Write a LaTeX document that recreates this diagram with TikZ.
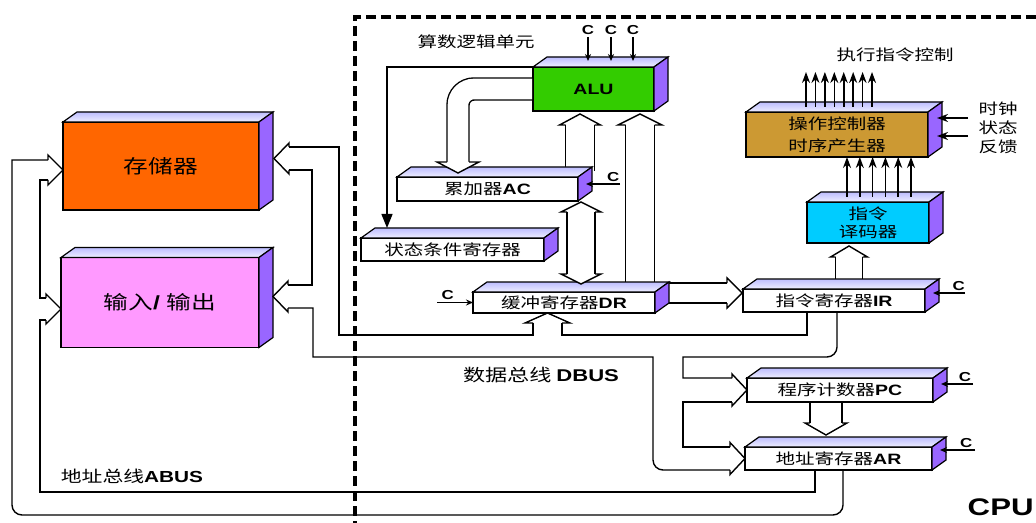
\documentclass[tikz,border=0pt]{standalone}
\usepackage{fontspec}
\setmainfont[FakeStretch=1.3]{Liberation Sans}
\newfontfamily\cjk[FakeStretch=1.3]{Noto Sans CJK SC}
\usetikzlibrary{calc,arrows.meta}

\definecolor{memcol}{HTML}{FF6600}
\definecolor{iocol}{HTML}{FF99FF}
\definecolor{alucol}{HTML}{33CC00}
\definecolor{cucol}{HTML}{CC9933}
\definecolor{idcol}{HTML}{00CCFF}
\definecolor{topcol}{HTML}{BDBDFF}
\definecolor{sidecol}{HTML}{9966FF}

\newcommand\lat[1]{{\rmfamily\bfseries #1}}

\tikzset{
  box/.style={draw, line width=.7pt, inner sep=0pt, outer sep=0pt, align=center},
  bigtxt/.style={font=\cjk\fontsize{9.5}{11}\selectfont},
  regtxt/.style={font=\cjk\fontsize{7.5}{9}\selectfont},
  lab/.style={font=\cjk\fontsize{7.5}{9.5}\selectfont, inner sep=0pt, align=center},
  clab/.style={font=\rmfamily\bfseries\fontsize{6.5}{7}\selectfont, inner sep=1pt},
  wire/.style={line width=.7pt},
  bus/.style={line width=.7pt, double, double distance=#1},
  carrow/.style={line width=.6pt, -{Stealth[length=3.5pt,width=3pt]}},
  sig/.style={line width=.8pt, -{Stealth[length=5.5pt,width=4pt]}},
  flag/.style={line width=.7pt, -{Triangle[length=7pt,width=5.5pt]}},
  cpuframe/.style={line width=1.6pt, dash pattern=on 5pt off 2.5pt},
  pics/bushead/.style n args={3}{code={
    \draw[line width=.7pt, fill=white] (-#3,#1) -- (-#3,#2) -- (0,0) -- (-#3,-#2) -- (-#3,-#1);
  }},
}

\begin{document}
\begin{tikzpicture}[x=0.5pt, y=-0.5pt]
\path[use as bounding box, fill=white] (0,0) rectangle (1036,523);
\def\dx{14}
\def\dy{10}

%%%%% CPU frame
\draw[cpuframe] (1036,17) -- (355,17) -- (355,523);

%%%%% units and registers
\node[box, bigtxt, fill=memcol, minimum width=98pt, minimum height=44pt] (mem) at (161,166) {存储器};
\node[box, bigtxt, fill=iocol, minimum width=99pt, minimum height=45pt] (io) at (160,302.5) {输入\lat{/ }输出};
\node[box, fill=alucol, minimum width=60.5pt, minimum height=22pt, font=\rmfamily\bfseries\fontsize{7.5}{9}\selectfont] (alu) at (593.5,89) {ALU};
\node[box, regtxt, fill=white, minimum width=90.5pt, minimum height=12pt] (ac) at (487.5,189) {累加器\lat{AC}};
\node[box, regtxt, fill=white, minimum width=91.5pt, minimum height=11.5pt] (sr) at (452.5,249.5) {状态条件寄存器};
\node[box, regtxt, fill=white, minimum width=91pt, minimum height=10.5pt] (dr) at (564,302.5) {缓冲寄存器\lat{DR}};
\node[box, regtxt, fill=white, minimum width=91pt, minimum height=11.5pt] (ir) at (834,300.5) {指令寄存器\lat{IR}};
\node[box, regtxt, fill=white, minimum width=93pt, minimum height=12pt] (pc) at (840,390) {程序计数器\lat{PC}};
\node[box, regtxt, fill=white, minimum width=93.5pt, minimum height=11.5pt] (ar) at (838.5,458.5) {地址寄存器\lat{AR}};
\node[box, regtxt, fill=idcol, minimum width=61pt, minimum height=20.5pt] (id) at (868,222.5) {指令\\译码器};
\node[box, fill=cucol, minimum width=91pt, minimum height=22.5pt, font=\cjk\fontsize{7.5}{11}\selectfont] (cu) at (837,134.5) {操作控制器\\时序产生器};

%%%%% hollow buses inside the CPU
\draw[bus=10.3pt, rounded corners=8pt] ($(alu.west)+(-1,0)$) -| ($(ac.north west)+(61,-15)$);
\draw[bus=13.8pt] ($(ac.north west)+(183,-6)$) -- ($(alu.south west)+(47,14)$);
\draw[bus=13.8pt] ($(dr.north west)+(167,-6)$) -- ($(alu.south west)+(107,14)$);
\draw[bus=13.3pt] ($(ac.south west)+(184,11)$) -- ($(dr.north west)+(108,-18)$);
\draw[bus=9.3pt] ($(dr.east)+(10,-9.5)$) -- ($(ir.west)+(-16,-7.5)$);
\draw[bus=12.8pt] ($(ir.north west)+(106,-5)$) -- ($(id.south west)+(42,14)$);
\draw[bus=15.3pt] ($(pc.south west)+(79,1)$) -- ($(ar.north west)+(81,-24)$);

%%%%% 3d faces
\foreach \n in {mem,io,alu,ac,sr,dr,ir,pc,ar,id,cu}
{
 \draw[line width=.6pt, top color=topcol, bottom color=topcol!25] (\n.north west) -- ++(\dx,-\dy) -- ($(\n.north east)+(\dx,-\dy)$) -- (\n.north east) -- cycle;
 \draw[line width=.6pt, fill=sidecol] (\n.north east) -- ++(\dx,-\dy) -- ($(\n.south east)+(\dx,-\dy)$) -- (\n.south east) -- cycle;
}

%%%%% heads of the hollow buses
\pic[rotate=-90] at ($(ac.north west)+(61,-4)$) {bushead={11}{21}{11}};
\pic[rotate=90] at ($(alu.south west)+(47,3)$) {bushead={14.5}{20.5}{11}};
\pic[rotate=90] at ($(alu.south west)+(107,3)$) {bushead={14.5}{22}{11}};
\pic[rotate=90] at ($(ac.south west)+(184,1)$) {bushead={14}{20}{10}};
\pic[rotate=-90] at ($(dr.north west)+(108,-8)$) {bushead={14}{20}{10}};
\pic at ($(ir.west)+(-1,-7.5)$) {bushead={10}{15}{15}};
\pic[rotate=90] at ($(id.south west)+(42,3)$) {bushead={13.5}{18.5}{11}};
\pic[rotate=-90] at ($(ar.north west)+(81,-12)$) {bushead={16}{21}{12}};

%%%%% data bus DBUS
\pic[rotate=180] at ($(mem.east)+(15,-7.5)$) {bushead={11.5}{15.5}{15}};
\pic[rotate=180] at ($(io.east)+(14,-6)$) {bushead={11.5}{15.5}{15}};
\pic[rotate=90] at ($(dr.south west)+(74.5,0)$) {bushead={14.5}{22.5}{10}};
\pic at (pc.west) {bushead={12}{16}{15}};
\pic at (ar.west) {bushead={11.5}{16}{15}};
\draw[wire] (289,147) -- (339,147) -- (339,335) -- (533,335) -- (533,323);
\draw[wire] (562,323) -- (562,335) -- (807,335) -- (807,312);
\draw[wire] (288,285) -- (312,285) -- (312,170) -- (289,170);
\draw[wire] (288,308) -- (313,308) -- (313,357) -- (653,357) [rounded corners=5pt] -- (653,470) -- (730,470);
\draw[wire, rounded corners=5pt] (837,312) -- (837,357) [sharp corners] -- (683,357) -- (683,378) -- (732,378);
\draw[wire] (732,402) -- (683,402) -- (683,447) -- (730,447);

%%%%% address bus ABUS
\pic at ($(mem.west)+(0,4)$) {bushead={10}{15}{15}};
\pic at ($(io.west)+(0,6.5)$) {bushead={11}{15}{15}};
\draw[wire, rounded corners=5pt] (843,470) -- (843,515) -- (12,515) [sharp corners] -- (12,160) -- (48,160);
\draw[wire] (48,180) -- (40,180) -- (40,298) -- (46,298);
\draw[wire] (46,320) -- (40,320) -- (40,492) -- (815,492) -- (815,470);

%%%%% control lines
\draw[flag] (alu.north west) -| ($(sr.north west)+(26,-10)$);
\foreach \cx in {55,78,100}
  \draw[carrow] ($(alu.north west)+(\cx,-30)$) node[clab, above]{C} -- ++(0,24);
\draw[carrow] ($(ac.east)+(42,-5)$) -- node[clab, pos=.2, above]{C} ($(ac.east)+(8,-5)$);
\draw[carrow] ($(dr.west)+(-36,0)$) -- node[clab, pos=.3, above]{C} (dr.west);
\draw[carrow] ($(ir.east)+(40,-7.5)$) -- node[clab, pos=.2, above]{C} ($(ir.east)+(8,-7.5)$);
\draw[carrow] ($(pc.east)+(40,-6)$) -- node[clab, pos=.25, above]{C} ($(pc.east)+(8,-6)$);
\draw[carrow] ($(ar.east)+(43,-8.5)$) -- node[clab, pos=.25, above]{C} ($(ar.east)+(8,-8.5)$);

\foreach \i in {0,...,7}
  \draw[sig] ($(cu.north west)+(60+9.43*\i,-5)$) -- ++(0,-35);
\foreach \i in {0,...,5}
{
 \path ($(id.north west)+(40+12.8*\i,-5)$) coordinate (s);
 \draw[sig] (s) -- (s |- cu.south);
}
\draw[sig] ($(cu.east)+(40,-16.5)$) -- ($(cu.east)+(9,-16.5)$);
\draw[sig] ($(cu.east)+(40,1.5)$) -- ($(cu.east)+(9,1.5)$);

%%%%% texts
\node[lab] (alut) at (476,42) {算数逻辑单元};
\node[lab] (exect) at (895,55) {执行指令控制};
\node[lab] (fbt) at (998,128) {时钟\\状态\\反馈};
\node[lab, font=\cjk\fontsize{8.5}{10}\selectfont] (dbus) at (541,375) {数据总线 \lat{DBUS}};
\node[lab, font=\cjk\fontsize{8}{10}\selectfont] (abus) at (132,476) {地址总线\lat{ABUS}};
\node[font=\rmfamily\bfseries\fontsize{12}{14}\selectfont, anchor=east, inner sep=0pt] (cpu) at (1034,507) {CPU};
\end{tikzpicture}
\end{document}
